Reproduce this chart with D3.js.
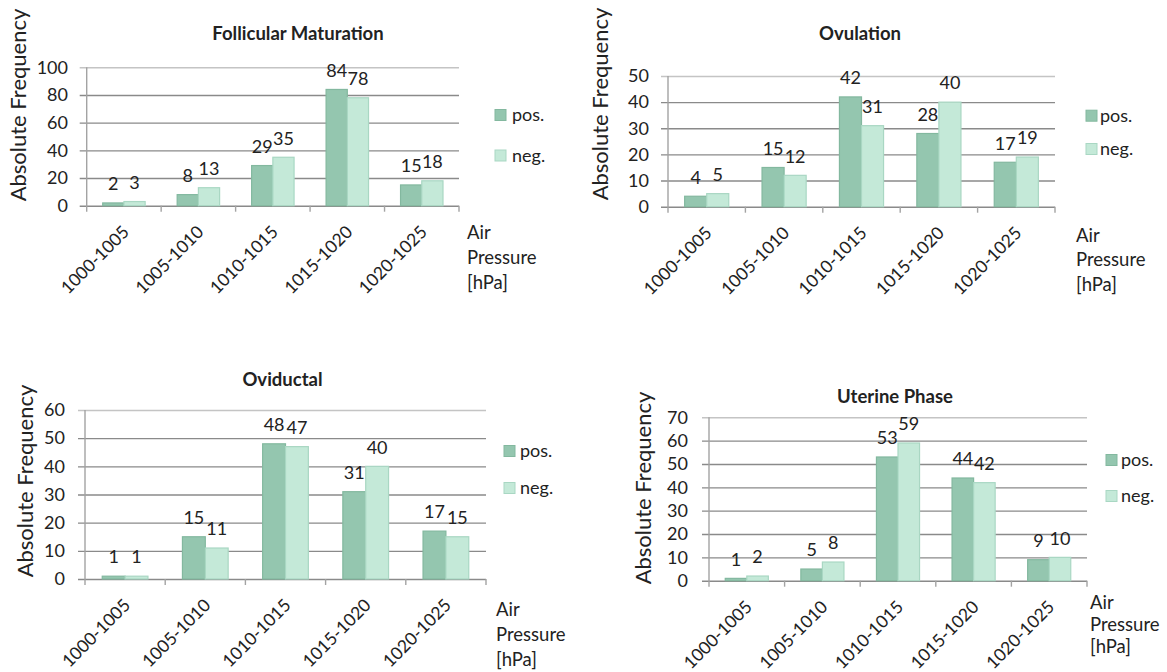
<!DOCTYPE html>
<html>
<head>
<meta charset="utf-8">
<script src="https://cdn.jsdelivr.net/npm/d3@7"></script>
<style>
  body { margin: 0; background: #fff; }
  svg { display: block; }
  text { font-family: Lato, "Open Sans", sans-serif; fill: #222; }
</style>
</head>
<body>
<svg id="chart" width="1167" height="672"></svg>
<script>
// Air pressure classes shared by all four panels
const categories = ["1000-1005", "1005-1010", "1010-1015", "1015-1020", "1020-1025"];
const seriesNames = ["pos.", "neg."];

// Absolute frequencies per reproductive phase
const follicularPos = [2, 8, 29, 84, 15];
const follicularNeg = [3, 13, 35, 78, 18];
const ovulationPos  = [4, 15, 42, 28, 17];
const ovulationNeg  = [5, 12, 31, 40, 19];
const oviductalPos  = [1, 15, 48, 31, 17];
const oviductalNeg  = [1, 11, 47, 40, 15];
const uterinePos    = [1, 5, 53, 44, 9];
const uterineNeg    = [2, 8, 59, 42, 10];

// Y tick values per panel
const follicularTicks = [0, 20, 40, 60, 80, 100];
const ovulationTicks  = [0, 10, 20, 30, 40, 50];
const oviductalTicks  = [0, 10, 20, 30, 40, 50, 60];
const uterineTicks    = [0, 10, 20, 30, 40, 50, 60, 70];

const xTitleLines = ["Air", "Pressure", "[hPa]"];
const yTitle = "Absolute Frequency";

const fills   = { "pos.": "#94c6af", "neg.": "#c4e9d8" };
const strokes = { "pos.": "#83b89f", "neg.": "#a9d7c3" };

const panels = [
  { title: "Follicular Maturation", pos: follicularPos, neg: follicularNeg, ticks: follicularTicks,
    frame: { left: 86.7, right: 459, top: 67.3, bottom: 205.7, tickRight: 68,
             titleX: 298, titleY: 34, yTitleX: 18, yTitleY: 105,
             legendX: 495, legendTextX: 512, legendY: [115, 155.5],
             airX: 467, airY: [233, 258, 283] } },
  { title: "Ovulation", pos: ovulationPos, neg: ovulationNeg, ticks: ovulationTicks,
    frame: { left: 668, right: 1055, top: 76, bottom: 206.7, tickRight: 649,
             titleX: 860, titleY: 34, yTitleX: 600, yTitleY: 104,
             legendX: 1086, legendTextX: 1100, legendY: [115.7, 149],
             airX: 1076, airY: [236, 260, 285] } },
  { title: "Oviductal", pos: oviductalPos, neg: oviductalNeg, ticks: oviductalTicks,
    frame: { left: 85, right: 486, top: 410, bottom: 579, tickRight: 65,
             titleX: 282.5, titleY: 380, yTitleX: 25, yTitleY: 481,
             legendX: 504, legendTextX: 520, legendY: [451, 488],
             airX: 496, airY: [610, 635, 660] } },
  { title: "Uterine Phase", pos: uterinePos, neg: uterineNeg, ticks: uterineTicks,
    frame: { left: 709, right: 1087, top: 417.3, bottom: 580.7, tickRight: 688,
             titleX: 895, titleY: 397, yTitleX: 643, yTitleY: 488,
             legendX: 1106, legendTextX: 1121, legendY: [460, 496],
             airX: 1090, airY: [603, 625, 647] } }
];

const svg = d3.select("#chart");

function drawPanel(p) {
  const f = p.frame;
  const g = svg.append("g");
  const values = { "pos.": p.pos, "neg.": p.neg };

  const x = d3.scaleBand().domain(categories).range([f.left, f.right]);
  const bw = x.bandwidth();
  const xs = d3.scaleBand().domain(seriesNames).range([bw * 0.215, bw * 0.785]);
  const y = d3.scaleLinear().domain([0, d3.max(p.ticks)]).range([f.bottom, f.top]);

  // horizontal gridlines with tick labels
  const yAxis = g.append("g")
    .attr("transform", `translate(${f.left},0)`)
    .call(d3.axisLeft(y).tickValues(p.ticks).tickSize(-(f.right - f.left))
      .tickPadding(f.left - f.tickRight).tickFormat(d3.format("d")));
  yAxis.select(".domain").remove();
  yAxis.selectAll(".tick line")
    .attr("x1", -7)
    .attr("stroke", d => d === d3.max(p.ticks) ? "#c4c4c4" : "#8a8a8a")
    .attr("stroke-width", 1.4);
  yAxis.selectAll(".tick text")
    .attr("font-size", 18).attr("fill", "#222")
    .style("font-family", "Lato, 'Open Sans', sans-serif");

  // vertical axis line
  g.append("line")
    .attr("x1", f.left).attr("x2", f.left)
    .attr("y1", f.top).attr("y2", f.bottom + 6)
    .attr("stroke", "#a3a3a3").attr("stroke-width", 1.4);

  // category boundary ticks
  const bounds = d3.range(categories.length + 1).map(i => f.left + i * x.step());
  g.selectAll(".bound").data(bounds.slice(1)).join("line")
    .attr("x1", d => d).attr("x2", d => d)
    .attr("y1", f.bottom).attr("y2", f.bottom + 6)
    .attr("stroke", "#a3a3a3").attr("stroke-width", 1.4);

  // bars
  const cells = [];
  categories.forEach((c, i) => seriesNames.forEach(s => cells.push({ c, s, v: values[s][i] })));
  g.selectAll(".bar").data(cells).join("rect")
    .attr("x", d => x(d.c) + xs(d.s))
    .attr("y", d => y(d.v))
    .attr("width", xs.bandwidth())
    .attr("height", d => y(0) - y(d.v))
    .attr("fill", d => fills[d.s])
    .attr("stroke", d => strokes[d.s])
    .attr("stroke-width", 1.2);

  // value labels
  g.selectAll(".val").data(cells).join("text")
    .attr("x", d => x(d.c) + xs(d.s) + xs.bandwidth() / 2)
    .attr("y", d => y(d.v) - 19)
    .attr("dy", "0.35em")
    .attr("text-anchor", "middle")
    .attr("font-size", 18)
    .text(d => d.v);

  // rotated category labels
  g.selectAll(".cat").data(categories).join("text")
    .attr("text-anchor", "end")
    .attr("dy", "0.35em")
    .attr("font-size", 17.5)
    .attr("transform", d => `translate(${x(d) + bw / 2 + 2},${f.bottom + 23}) rotate(-45)`)
    .text(d => d);

  // title
  g.append("text")
    .attr("x", f.titleX).attr("y", f.titleY).attr("dy", "0.35em")
    .attr("text-anchor", "middle")
    .attr("font-size", 18.5).attr("font-weight", "bold")
    .text(p.title);

  // y title
  g.append("text")
    .attr("transform", `translate(${f.yTitleX},${f.yTitleY}) rotate(-90)`)
    .attr("dy", "0.35em")
    .attr("text-anchor", "middle")
    .attr("font-size", 22)
    .text(yTitle);

  // x title
  g.selectAll(".xt").data(xTitleLines).join("text")
    .attr("x", f.airX)
    .attr("y", (d, i) => f.airY[i])
    .attr("dy", "0.35em")
    .attr("font-size", 18.5)
    .text(d => d);

  // legend
  const lg = g.selectAll(".lg").data(seriesNames).join("g")
    .attr("transform", (d, i) => `translate(0,${f.legendY[i]})`);
  lg.append("rect")
    .attr("x", f.legendX).attr("y", -5.5)
    .attr("width", 11).attr("height", 11)
    .attr("fill", d => fills[d]).attr("stroke", d => strokes[d]);
  lg.append("text")
    .attr("x", f.legendTextX).attr("dy", "0.35em")
    .attr("font-size", 18)
    .text(d => d);
}

panels.forEach(drawPanel);
</script>
</body>
</html>
